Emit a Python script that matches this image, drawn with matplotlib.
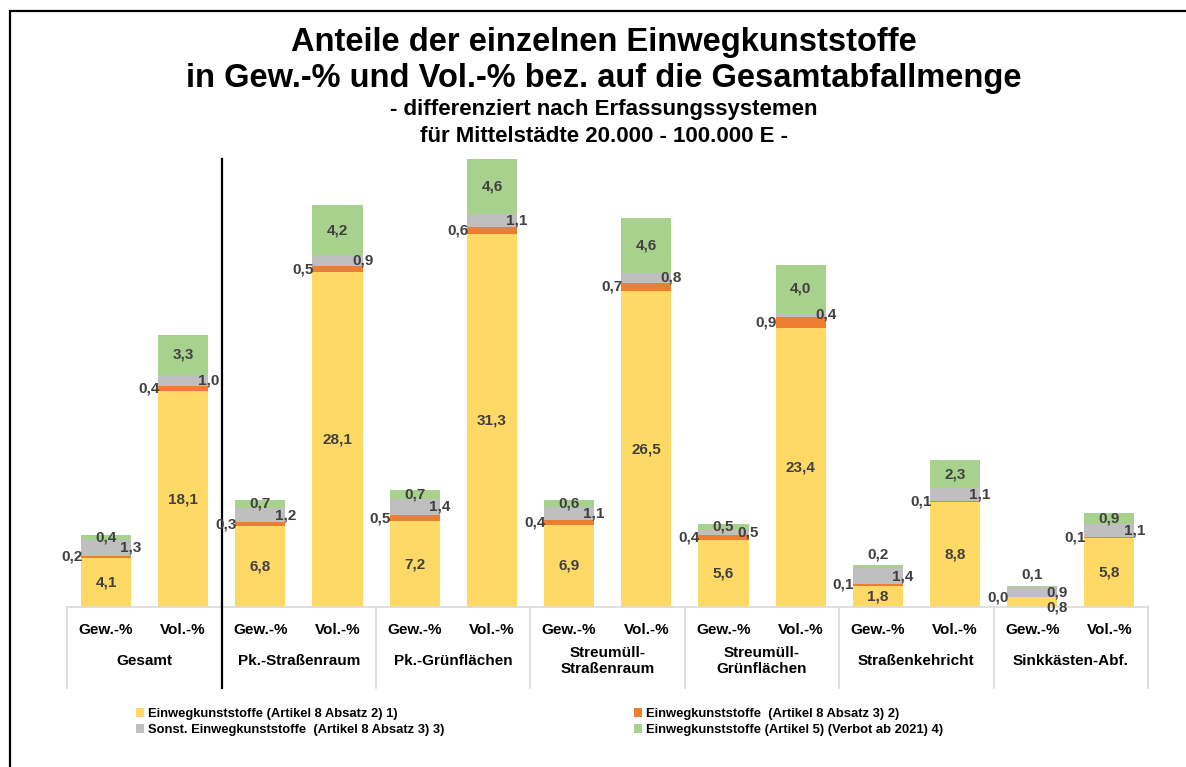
import numpy as np
import matplotlib.pyplot as plt
from matplotlib.patches import Rectangle

plt.rcParams['font.family'] = ['Liberation Sans', 'DejaVu Sans']

# Daten
gruppen = ['Gesamt', 'Pk.-Straßenraum', 'Pk.-Grünflächen', 'Streumüll-\nStraßenraum',
           'Streumüll-\nGrünflächen', 'Straßenkehricht', 'Sinkkästen-Abf.']
unter = ['Gew.-%', 'Vol.-%']
art8_abs2 = [4.1, 18.1, 6.8, 28.1, 7.2, 31.3, 6.9, 26.5, 5.6, 23.4, 1.8, 8.8, 0.8, 5.8]
art8_abs3 = [0.2, 0.4, 0.3, 0.5, 0.5, 0.6, 0.4, 0.7, 0.4, 0.9, 0.1, 0.1, 0.0, 0.1]
sonst = [1.3, 1.0, 1.2, 0.9, 1.4, 1.1, 1.1, 0.8, 0.5, 0.4, 1.4, 1.1, 0.9, 1.1]
art5 = [0.4, 3.3, 0.7, 4.2, 0.7, 4.6, 0.6, 4.6, 0.5, 4.0, 0.2, 2.3, 0.1, 0.9]

namen = ['Einwegkunststoffe (Artikel 8 Absatz 2) 1)',
         'Einwegkunststoffe  (Artikel 8 Absatz 3) 2)',
         'Sonst. Einwegkunststoffe  (Artikel 8 Absatz 3) 3)',
         'Einwegkunststoffe (Artikel 5) (Verbot ab 2021) 4)']
farben = ['#FFD966', '#ED7D31', '#BFBFBF', '#A9D18E']
txt = '#404040'

fig = plt.figure(figsize=(11.86, 7.67), dpi=100)
ax = fig.add_axes([67.4 / 1186, 160 / 767, 1080.5 / 1186, 459 / 767])

x = np.arange(len(art8_abs2))
b = 0.65
y1 = np.array(art8_abs2)
y2 = np.array(art8_abs3)
y3 = np.array(sonst)
y4 = np.array(art5)
h1 = ax.bar(x, y1, b, color=farben[0])
h2 = ax.bar(x, y2, b, bottom=y1, color=farben[1])
h3 = ax.bar(x, y3, b, bottom=y1 + y2, color=farben[2])
h4 = ax.bar(x, y4, b, bottom=y1 + y2 + y3, color=farben[3])

def fmt(v):
    return f'{v:.1f}'.replace('.', ',')

kw = dict(fontsize=11, fontweight='bold', color=txt)
for i in range(len(x)):
    # gelb: Mitte
    if y1[i] >= 1.5:
        ax.text(x[i], y1[i] / 2, fmt(y1[i]), ha='center', va='center', **kw)
    else:
        ax.text(x[i] + b / 2, y1[i] / 2 - 0.4, fmt(y1[i]), ha='center', va='center', **kw)
    # orange: links neben dem Balken
    ax.text(x[i] - b / 2 + 0.02, y1[i] + y2[i] / 2, fmt(y2[i]), ha='right', va='center', **kw)
    # grau: rechte Kante
    ax.text(x[i] + b / 2, y1[i] + y2[i] + y3[i] / 2, fmt(y3[i]), ha='center', va='center', **kw)
    # grün
    top = y1[i] + y2[i] + y3[i]
    if y4[i] >= 0.3:
        ax.text(x[i], top + y4[i] / 2, fmt(y4[i]), ha='center', va='center', **kw)
    else:
        ax.text(x[i], top + y4[i] + 0.9, fmt(y4[i]), ha='center', va='center', **kw)

ax.set_xlim(-0.5, len(x) - 0.5)
ax.set_ylim(0, 38.5)
ax.axis('off')

# Kategorieachse
lc = '#D9D9D9'
ax.plot([-0.5, len(x) - 0.5], [0, 0], color=lc, lw=1.2, clip_on=False)
for g in range(len(gruppen) + 1):
    ax.plot([g * 2 - 0.5] * 2, [0, -0.176], transform=ax.get_xaxis_transform(),
            color=lc, lw=1.2, clip_on=False)
for i in range(len(x)):
    ax.text(x[i], -0.05, unter[i % 2], transform=ax.get_xaxis_transform(),
            ha='center', va='center', fontsize=11, fontweight='bold')
for g, name in enumerate(gruppen):
    ax.text(g * 2 + 0.5, -0.117, name, transform=ax.get_xaxis_transform(),
            ha='center', va='center', fontsize=11, fontweight='bold', linespacing=1.15)

# schwarze Trennlinie nach "Gesamt"
ax.plot([1.5, 1.5], [-0.176, 0.975], transform=ax.get_xaxis_transform(),
        color='black', lw=1.6, clip_on=False)

# Titel
tx = 604 / 1186
fig.text(tx, 1 - 43 / 767, 'Anteile der einzelnen Einwegkunststoffe', ha='center', va='center',
         fontsize=23.5, fontweight='bold')
fig.text(tx, 1 - 79 / 767, 'in Gew.-% und Vol.-% bez. auf die Gesamtabfallmenge', ha='center',
         va='center', fontsize=23.5, fontweight='bold')
fig.text(tx, 1 - 110 / 767, '- differenziert nach Erfassungssystemen', ha='center', va='center',
         fontsize=16, fontweight='bold')
fig.text(tx, 1 - 136 / 767, 'für Mittelstädte 20.000 - 100.000 E -', ha='center', va='center',
         fontsize=16, fontweight='bold')

# Legende
fig.legend([h1, h3, h2, h4], [namen[0], namen[2], namen[1], namen[3]], ncol=2,
           loc='center left', bbox_to_anchor=(124 / 1186, 1 - 722 / 767),
           frameon=False, handlelength=0.6, handleheight=0.6, handletextpad=0.3,
           columnspacing=14.6, labelspacing=0.3, prop={'size': 9.4, 'weight': 'bold'})

# Rahmen
fig.patches.append(Rectangle((10 / 1186, -0.1), 1.2, 1 - 11 / 767 + 0.1,
                             transform=fig.transFigure, fill=False, ec='black', lw=1.6))

fig.savefig('out.png', dpi=100)
